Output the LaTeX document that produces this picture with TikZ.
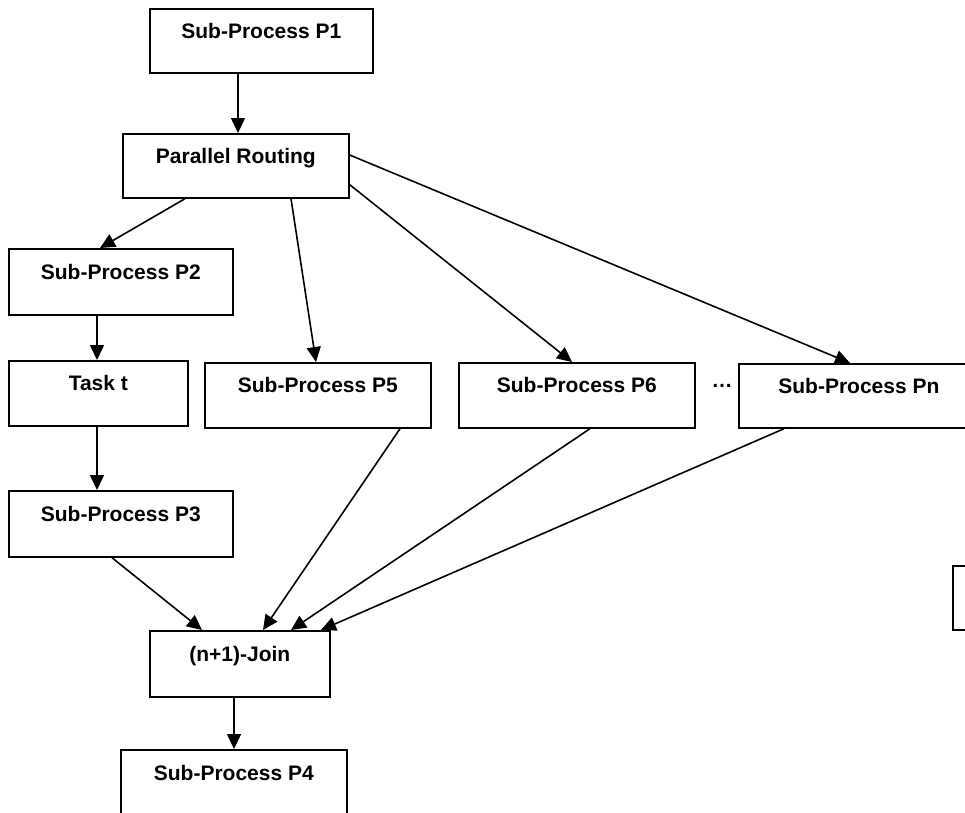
\documentclass[tikz,border=0pt]{standalone}
\usepackage{fontspec}
\setmainfont{Liberation Sans}
\usetikzlibrary{arrows.meta,calc}
\begin{document}
\begin{tikzpicture}[x=1pt,y=-1pt,
  box/.style={draw,line width=1.7pt,rectangle,anchor=north west,inner sep=0pt,
    font=\fontsize{21}{25}\selectfont\bfseries,text height=15pt,text depth=20pt},
  flow/.style={line width=1.6pt,-{Triangle[length=15pt,width=14pt]}}]
\useasboundingbox (0,0) rectangle (965,812);
\clip (0,0) rectangle (965,812);
% process boxes
\node[box,minimum width=223pt,minimum height=64pt] (p1) at (149,8) {Sub-Process P1};
\node[box,minimum width=226pt,minimum height=64pt] (pr) at (122,133) {Parallel Routing};
\node[box,minimum width=224pt,minimum height=66pt] (p2) at (8,248) {Sub-Process P2};
\node[box,minimum width=179pt,minimum height=65pt] (task) at (8,360) {Task t};
\node[box,minimum width=226pt,minimum height=65pt] (p5) at (204,362) {Sub-Process P5};
\node[box,minimum width=236pt,minimum height=65pt] (p6) at (458,362) {Sub-Process P6};
\node[box,minimum width=240pt,minimum height=64pt] (pn) at (738,363) {Sub-Process Pn};
\node[font=\fontsize{21}{25}\selectfont\bfseries] (dots) at (722,386) {\dots};
\node[box,minimum width=224pt,minimum height=66pt] (p3) at (8,490) {Sub-Process P3};
\node[box,minimum width=180pt,minimum height=66pt] (join) at (149,630) {(n+1)-Join};
\node[box,minimum width=226pt,minimum height=67pt] (p4) at (120,749) {Sub-Process P4};
\node[box,minimum width=40pt,minimum height=64pt] (extra) at (952,565) {};
% connectors
\draw[flow] ($(p1.south west)+(89,0)$) -- ($(pr.north west)+(116,0)$);
\draw[flow] ($(pr.south west)+(63,0)$) -- ($(p2.north west)+(92,0)$);
\draw[flow] ($(pr.south west)+(169,0)$) -- ($(p5.north west)+(112,0)$);
\draw[flow] ($(pr.south east)+(0,-14)$) -- ($(p6.north west)+(114,0)$);
\draw[flow] ($(pr.north east)+(0,22)$) -- ($(pn.north west)+(112,0)$);
\draw[flow] ($(p2.south west)+(89,0)$) -- ($(task.north west)+(89,0)$);
\draw[flow] ($(task.south west)+(89,0)$) -- ($(p3.north west)+(89,0)$);
\draw[flow] ($(p3.south west)+(104,0)$) -- ($(join.north west)+(53,0)$);
\draw[flow] ($(p5.south west)+(196,0)$) -- ($(join.north west)+(114,0)$);
\draw[flow] ($(p6.south west)+(132,0)$) -- ($(join.north west)+(142,0)$);
\draw[flow] ($(pn.south west)+(46,0)$) -- ($(join.north west)+(172,0)$);
\draw[flow] ($(join.south west)+(85,0)$) -- ($(p4.north west)+(114,0)$);
\end{tikzpicture}
\end{document}
